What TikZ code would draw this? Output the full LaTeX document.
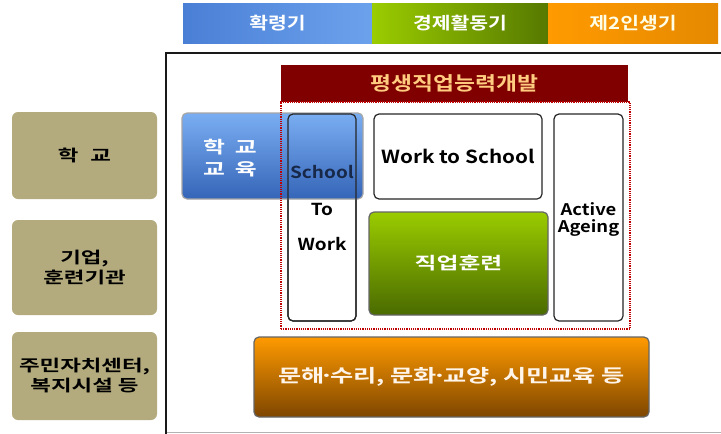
\documentclass[tikz,border=0pt]{standalone}
\usepackage{fontspec}
\newfontfamily\krA{Noto Sans CJK KR Bold}[FakeStretch=1.4]
\newfontfamily\krB{Noto Sans CJK KR Bold}[FakeStretch=1.2]
\newfontfamily\krL{Noto Sans CJK KR Bold}[FakeStretch=1.15]
\newcommand\mdt{\makebox[6pt]{·}}
\definecolor{khakiC}{HTML}{B3AB7D}
\definecolor{blueT}{HTML}{7AAEF2}
\definecolor{blueB}{HTML}{3565B8}
\definecolor{blueL}{HTML}{4A7FD6}
\definecolor{blueR}{HTML}{6CA2EC}
\definecolor{grnT}{HTML}{9ACC00}
\definecolor{grnB}{HTML}{4A6A00}
\definecolor{orT}{HTML}{FF9A00}
\definecolor{orB}{HTML}{7E4600}
\definecolor{titleC}{HTML}{800000}
\definecolor{titleTxt}{HTML}{FFCC80}
\definecolor{dotC}{HTML}{C00000}
\definecolor{navyC}{HTML}{182848}
\tikzset{
  leftbox/.style={rounded corners=6pt, fill=khakiC, minimum width=145pt, inner sep=0pt, align=center,
    font=\krA\fontsize{16}{20}\selectfont},
  headbox/.style={minimum height=40pt, inner sep=0pt, text=white, font=\krB\fontsize{17}{20}\selectfont},
  whitebox/.style={rounded corners=5pt, draw=black!85, line width=1.2pt, fill=white, inner sep=0pt},
  gradbox/.style={rounded corners=5pt, draw=gray!80!black, line width=1.2pt, inner sep=0pt},
  lat/.style={font=\krL\fontsize{16.5}{18}\selectfont, inner sep=0pt},
}
\begin{document}
\begin{tikzpicture}[x=1pt,y=-1pt]
\useasboundingbox (0,0) rectangle (721,434);
% header
\node[headbox, minimum width=189pt, left color=blueL, right color=blueR] (h1) at (277.5,23) {확령기};
\node[headbox, minimum width=176pt, left color=grnT, right color=grnB!85!grnT] (h2) at (460,23) {경제활동기};
\node[headbox, minimum width=170pt, left color=orT, right color=orT!80!orB, text=white!90!yellow] (h3) at (633,23) {제2인생기};
% frame
\coordinate (fTR) at (721,53);
\coordinate (fTL) at (166,53);
\coordinate (fBL) at (166,434);
\coordinate (gL) at (166,432);
\coordinate (gR) at (721,432);
\draw[gray!60, line width=1pt] (gL) -- (gR);
\draw[black!90, line width=2pt] (fTR) -- (fTL) -- (fBL);
% left boxes
\node[leftbox, minimum height=87pt] (l1) at (84.5,155.5) {학\hspace{12pt}교};
\node[leftbox, minimum height=95pt] (l2) at (84.5,267.5) {기업,\\훈련기관};
\node[leftbox, minimum height=88pt] (l3) at (84.5,376) {주민자치센터,\\복지시설 등};
% title
\node[fill=titleC, minimum width=347pt, minimum height=37pt, inner sep=0pt, text=titleTxt,
  font=\krB\fontsize{19}{22}\selectfont] (title) at (454.5,83.5) {평생직업능력개발};
% school to work box (fill first)
\node[whitebox, minimum width=68pt, minimum height=207pt] (stw) at (322,217.5) {};
% blue education box
\node[gradbox, draw=gray!70, top color=blueT, bottom color=blueB, minimum width=181pt, minimum height=86pt] (edu) at (272.5,156) {};
\node[draw=black!85, line width=1.2pt, rounded corners=5pt, minimum width=68pt, minimum height=207pt, inner sep=0pt] (stwb) at (322,217.5) {};
\node[text=white, font=\krA\fontsize{17}{20}\selectfont, inner sep=0pt] (edu1) at (230,147) {학\hspace{10pt}교};
\node[text=white, font=\krA\fontsize{17}{20}\selectfont, inner sep=0pt] (edu2) at (230,169) {교\hspace{10pt}육};
\node[lat, text=navyC] (s1) at (322,172) {School};
\node[lat] (s2) at (322,209) {To};
\node[lat] (s3) at (322,244) {Work};
% work to school
\node[whitebox, minimum width=168pt, minimum height=85pt, font=\krL\fontsize{18}{20}\selectfont] (wts) at (458,156.5) {Work to School};
% active ageing
\node[whitebox, minimum width=69pt, minimum height=207pt] (act) at (588.5,217.5) {};
\node[lat, align=center, font=\krL\fontsize{16}{17}\selectfont] (act1) at (588.5,219) {Active\\Ageing};
% job training
\node[gradbox, top color=grnT, bottom color=grnB, minimum width=179pt, minimum height=103pt, text=white,
  font=\krA\fontsize{17}{20}\selectfont] (job) at (458.5,263.5) {직업훈련};
% dotted region
\node[draw=dotC, line width=1.8pt, dash pattern=on 1.2pt off 1pt, minimum width=349pt, minimum height=227pt, inner sep=0pt] (reg) at (455.5,215.5) {};
% bottom orange
\node[gradbox, top color=orT, bottom color=orB, minimum width=395pt, minimum height=80pt, text=white!92!orange,
  font=\krA\fontsize{18}{22}\selectfont] (base) at (451.5,377) {문해\mdt 수리, 문화\mdt 교양, 시민교육 등};
\end{tikzpicture}
\end{document}
